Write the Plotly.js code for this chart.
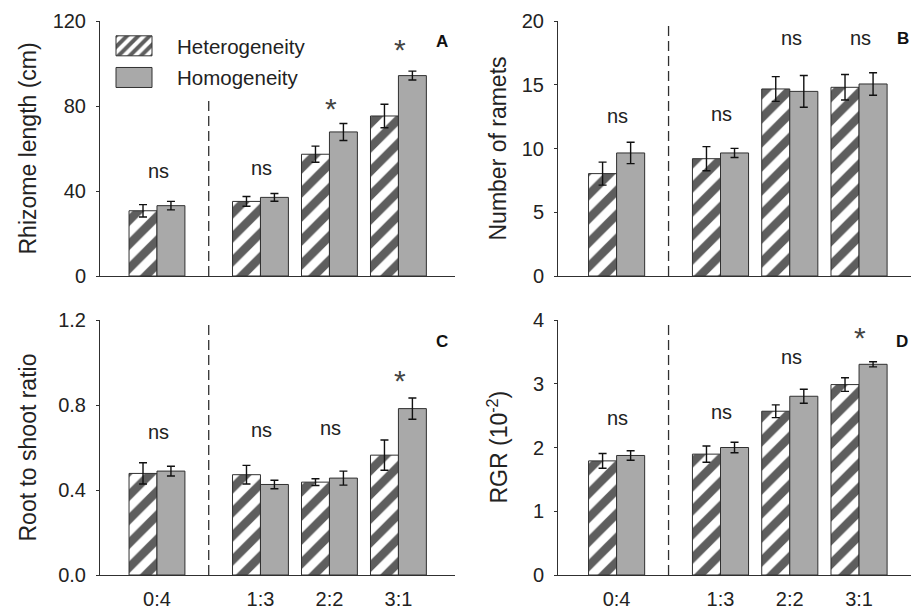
<!DOCTYPE html>
<html>
<head>
<meta charset="utf-8">
<script src="https://cdn.plot.ly/plotly-3.0.1.min.js"></script>
<style>html,body{margin:0;padding:0;background:#fff;}#chart{width:911px;height:611px;}</style>
</head>
<body>
<div id="chart"></div>
<script>
// ---- data ----
const categories = ['0:4', '1:3', '2:2', '3:1'];
const seriesNames = ['Heterogeneity', 'Homogeneity'];
const axisTitles = ['Rhizome length (cm)', 'Number of ramets', 'Root to shoot ratio', 'RGR (10<sup>-2</sup>)'];

const rhizomeHet = [30.7, 35.1, 57.3, 75.3];
const rhizomeHetErr = [2.9, 2.3, 3.8, 5.5];
const rhizomeHom = [33.1, 37.0, 67.8, 94.3];
const rhizomeHomErr = [2.0, 1.8, 4.0, 2.1];

const rametsHet = [8.03, 9.2, 14.67, 14.8];
const rametsHetErr = [0.9, 0.95, 0.97, 1.0];
const rametsHom = [9.65, 9.65, 14.48, 15.06];
const rametsHomErr = [0.84, 0.36, 1.24, 0.88];

const rootShootHet = [0.478, 0.472, 0.437, 0.564];
const rootShootHetErr = [0.05, 0.044, 0.016, 0.071];
const rootShootHom = [0.489, 0.426, 0.456, 0.783];
const rootShootHomErr = [0.023, 0.02, 0.033, 0.05];

const rgrHet = [1.79, 1.896, 2.569, 2.987];
const rgrHetErr = [0.115, 0.128, 0.1, 0.107];
const rgrHom = [1.875, 2.0, 2.804, 3.305];
const rgrHomErr = [0.075, 0.083, 0.11, 0.04];

const sigA = ['ns', 'ns', '*', '*'];
const sigAy = [49, 50.4, 81, 109];
const sigB = ['ns', 'ns', 'ns', 'ns'];
const sigBy = [12.5, 12.6, 18.6, 18.6];
const sigC = ['ns', 'ns', 'ns', '*'];
const sigCy = [0.67, 0.678, 0.686, 0.94];
const sigD = ['ns', 'ns', 'ns', '*'];
const sigDy = [2.45, 2.54, 3.4, 3.81];

// ---- layout helpers ----
const xPos = [0, 1.5, 2.5, 3.5];      // group positions (gap after 0:4)
const dividerX = 0.75;
const FONT = 'Liberation Sans, Arial, sans-serif';
const hetColor = '#5e5e5e';
const homColor = '#a9a9a9';

function barTrace(y, err, idx, ax, show) {
  const het = idx === 0;
  return {
    type: 'bar', x: xPos, y: y, name: seriesNames[idx],
    xaxis: 'x' + ax, yaxis: 'y' + ax,
    showlegend: show, legendgroup: seriesNames[idx],
    marker: {
      color: het ? hetColor : homColor,
      line: {color: '#303030', width: 1},
      pattern: het ? {shape: '/', bgcolor: hetColor, fgcolor: '#ffffff', size: 17, solidity: 0.5, fillmode: 'replace'} : undefined
    },
    error_y: {type: 'data', array: err, visible: true, color: '#111', thickness: 1.4, width: 4}
  };
}

const data = [
  barTrace(rhizomeHet, rhizomeHetErr, 0, '', true),
  barTrace(rhizomeHom, rhizomeHomErr, 1, '', true),
  barTrace(rametsHet, rametsHetErr, 0, '2', false),
  barTrace(rametsHom, rametsHomErr, 1, '2', false),
  barTrace(rootShootHet, rootShootHetErr, 0, '3', false),
  barTrace(rootShootHom, rootShootHomErr, 1, '3', false),
  barTrace(rgrHet, rgrHetErr, 0, '4', false),
  barTrace(rgrHom, rgrHomErr, 1, '4', false)
];

const W = 911, H = 611;
const domA = {x: [100 / W, 455 / W], y: [1 - 276 / H, 1 - 21 / H]};
const domB = {x: [558 / W, 1], y: [1 - 276 / H, 1 - 21 / H]};
const domC = {x: [100 / W, 455 / W], y: [1 - 575 / H, 1 - 320 / H]};
const domD = {x: [558 / W, 1], y: [1 - 575 / H, 1 - 320 / H]};

function xAxis(dom, anchor, labels, range) {
  return {
    domain: dom.x, anchor: anchor, range: range,
    showline: true, linecolor: '#303030', linewidth: 1,
    showgrid: false, zeroline: false,
    tickmode: 'array', tickvals: xPos, ticktext: categories,
    showticklabels: labels,
    ticks: labels ? 'outside' : '', ticklen: 6, tickcolor: 'rgba(0,0,0,0)',
    tickfont: {family: FONT, size: 20, color: '#222'}
  };
}
function yAxis(dom, anchor, range, dtick, fmt) {
  return {
    domain: dom.y, anchor: anchor, range: range, dtick: dtick, tick0: 0,
    showline: true, linecolor: '#303030', linewidth: 1,
    showgrid: false, zeroline: false,
    ticks: 'outside', ticklen: 3, tickcolor: '#303030',
    ticklabelstandoff: 6,
    tickformat: fmt || '',
    tickfont: {family: FONT, size: 20, color: '#222'}
  };
}

const annotations = [];
function addSig(labels, ys, xref, yref) {
  labels.forEach((t, i) => {
    const star = t === '*';
    annotations.push({
      xref: xref, yref: yref, x: xPos[i] + 0.02, y: ys[i], text: t, showarrow: false,
      yanchor: 'middle', yshift: star ? -5 : 1,
      font: {family: FONT, size: star ? 30 : 20, color: star ? '#444' : '#222'}
    });
  });
}
addSig(sigA, sigAy, 'x', 'y');
addSig(sigB, sigBy, 'x2', 'y2');
addSig(sigC, sigCy, 'x3', 'y3');
addSig(sigD, sigDy, 'x4', 'y4');

// y-axis titles (rotated), placed beside each panel's tick labels
const titlePos = [[27, domA], [497, domB], [27, domC], [497, domD]];
titlePos.forEach((p, i) => annotations.push({
  xref: 'paper', yref: 'paper', x: p[0] / W, y: (p[1].y[0] + p[1].y[1]) / 2,
  text: axisTitles[i], textangle: -90, showarrow: false,
  xanchor: 'center', yanchor: 'middle',
  font: {family: FONT, size: 23, color: '#222'}
}));

const panelLabels = [['A', 441.7, 41.7], ['B', 903, 39], ['C', 441.7, 341.7], ['D', 901.7, 341.7]];
panelLabels.forEach(p => annotations.push({
  xref: 'paper', yref: 'paper', x: p[1] / W, y: 1 - p[2] / H, text: '<b>' + p[0] + '</b>',
  showarrow: false, xanchor: 'center', yanchor: 'middle',
  font: {family: FONT, size: 17, color: '#111'}
}));

function divider(xr, yr, top) {
  return {type: 'line', xref: xr, yref: yr, x0: dividerX, x1: dividerX, y0: 0, y1: top,
    line: {color: '#303030', width: 1.3, dash: '10px,5px'}};
}

const layout = {
  width: W, height: H,
  margin: {l: 0, r: 0, t: 0, b: 0},
  paper_bgcolor: '#fff', plot_bgcolor: 'rgba(0,0,0,0)',
  font: {family: FONT, color: '#222'},
  barmode: 'group', bargap: 0.19, bargroupgap: 0,
  hovermode: false,
  showlegend: true,
  legend: {x: 91 / W, y: 1 - 26 / H, xanchor: 'left', yanchor: 'top',
    bgcolor: 'rgba(0,0,0,0)', font: {family: FONT, size: 20.5, color: '#222'},
    itemwidth: 76, traceorder: 'grouped', tracegroupgap: 2},
  xaxis: xAxis(domA, 'y', false, [-0.826, 4.32]),
  yaxis: yAxis(domA, 'x', [0, 120], 40),
  xaxis2: xAxis(domB, 'y2', false, [-0.846, 4.25]),
  yaxis2: yAxis(domB, 'x2', [0, 20], 5),
  xaxis3: xAxis(domC, 'y3', true, [-0.826, 4.32]),
  yaxis3: yAxis(domC, 'x3', [0, 1.2], 0.4, '.1f'),
  xaxis4: xAxis(domD, 'y4', true, [-0.846, 4.25]),
  yaxis4: yAxis(domD, 'x4', [0, 4], 1),
  annotations: annotations,
  shapes: [divider('x', 'y', 84), divider('x2', 'y2', 20), divider('x3', 'y3', 1.2), divider('x4', 'y4', 4)]
};

Plotly.newPlot('chart', data, layout, {staticPlot: true, displayModeBar: false}).then(gd => {
  // enlarge legend swatches to match the reference key boxes
  gd.querySelectorAll('.legend .legendpoints path').forEach(p => {
    p.setAttribute('d', 'M18,10H-18V-10H18Z');
  });
});
</script>
</body>
</html>
